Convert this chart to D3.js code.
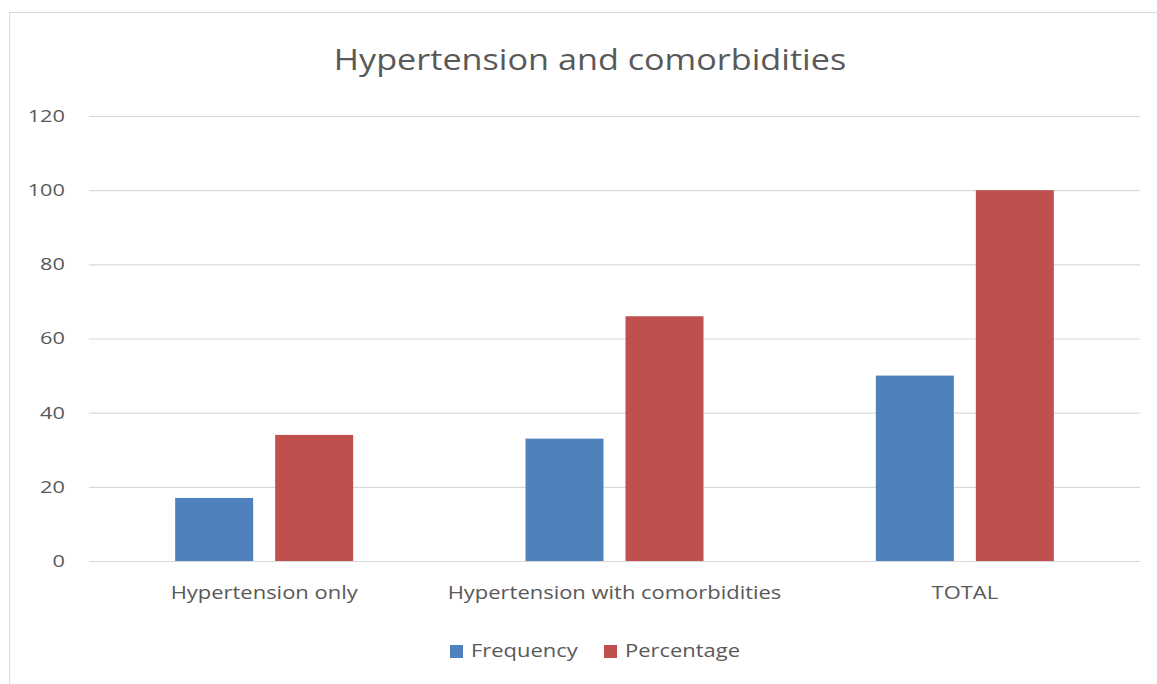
<!DOCTYPE html>
<html>
<head>
<meta charset="utf-8">
<script src="https://cdn.jsdelivr.net/npm/d3@7"></script>
<style>
  body { margin: 0; background: #fff; }
  text { font-family: "Open Sans", sans-serif; fill: #595959; }
</style>
</head>
<body>
<div id="main"></div>
<script>
const categories = ["Hypertension only", "Hypertension with comorbidities", "TOTAL"];
const seriesNames = ["Frequency", "Percentage"];
const frequency = [17, 33, 50];
const percentage = [34, 66, 100];
const yTicks = [0, 20, 40, 60, 80, 100, 120];
const colors = ["#4F81BD", "#C0504D"];

const ctx = { WIDTH: 1157, HEIGHT: 684 };

// the source picture is stretched sideways, so text gets a horizontal scale
function place(x, y, sx) {
  return `translate(${x},${y}) scale(${sx},1)`;
}

function createViz() {
  const svg = d3.select("#main").append("svg")
      .attr("width", ctx.WIDTH)
      .attr("height", ctx.HEIGHT);

  // chart frame (runs off right/bottom in the picture)
  svg.append("rect")
      .attr("x", 9.5).attr("y", 12.5)
      .attr("width", 1160).attr("height", 700)
      .attr("fill", "none").attr("stroke", "#d9d9d9");

  const left = 89, right = 1140, top = 116, bottom = 561;

  const x = d3.scaleBand().domain(categories).range([left, right]);
  const x1 = d3.scaleBand().domain(seriesNames).range([0, 178]).paddingInner(0.22);
  const y = d3.scaleLinear().domain([0, 120]).range([bottom, top]);

  // gridlines
  svg.append("g").selectAll("line").data(yTicks).enter().append("line")
      .attr("x1", left).attr("x2", right)
      .attr("y1", d => y(d) + 0.5).attr("y2", d => y(d) + 0.5)
      .attr("stroke", "#d9d9d9").attr("stroke-width", 1.2);

  // y tick labels
  svg.append("g").selectAll("text").data(yTicks).enter().append("text")
      .attr("transform", d => place(65, y(d), 1.28))
      .attr("dy", "0.35em")
      .attr("text-anchor", "end")
      .style("font-size", "17px")
      .text(d => d);

  const rows = categories.map((c, i) => ({ cat: c, vals: [frequency[i], percentage[i]] }));

  const groups = svg.append("g").selectAll("g").data(rows).enter().append("g")
      .attr("transform", d => `translate(${x(d.cat) + x.bandwidth() / 2 - 89},0)`);

  groups.selectAll("rect")
      .data(d => d.vals.map((v, j) => ({ name: seriesNames[j], v: v, j: j })))
      .enter().append("rect")
      .attr("x", d => x1(d.name))
      .attr("width", x1.bandwidth())
      .attr("y", d => y(d.v))
      .attr("height", d => y(0) - y(d.v))
      .attr("fill", d => colors[d.j]);

  // category labels
  svg.append("g").selectAll("text").data(categories).enter().append("text")
      .attr("transform", d => place(x(d) + x.bandwidth() / 2, 593, 1.22))
      .attr("dy", "0.35em")
      .attr("text-anchor", "middle")
      .style("font-size", "18px")
      .text(d => d);

  // title
  svg.append("text")
      .attr("transform", place(590, 59, 1.14))
      .attr("dy", "0.35em")
      .attr("text-anchor", "middle")
      .style("font-size", "30px")
      .text("Hypertension and comorbidities");

  // legend
  const legendX = [450, 604];
  const legend = svg.append("g").selectAll("g").data(seriesNames).enter().append("g")
      .attr("transform", (d, i) => `translate(${legendX[i]},651)`);
  legend.append("rect")
      .attr("x", 0).attr("y", -6)
      .attr("width", 13).attr("height", 13)
      .attr("fill", (d, i) => colors[i]);
  legend.append("text")
      .attr("transform", place(21, 0, 1.22))
      .attr("dy", "0.35em")
      .style("font-size", "18px")
      .text(d => d);
}

createViz();
</script>
</body>
</html>
